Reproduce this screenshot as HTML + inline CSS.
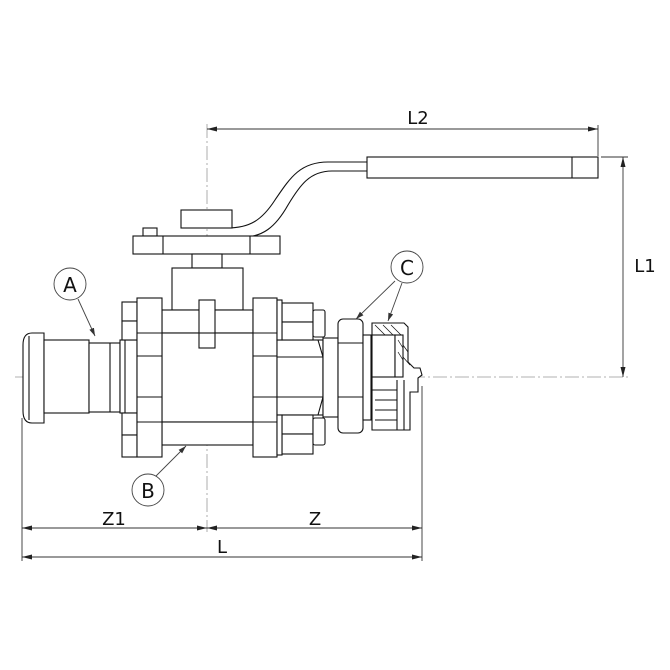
<!DOCTYPE html>
<html><head><style>
html,body{margin:0;padding:0;background:#fff;}
svg{display:block;}
text{font-family:"DejaVu Sans","Liberation Sans",sans-serif;fill:#111;}
</style></head><body>
<svg width="670" height="670" viewBox="0 0 670 670" xmlns="http://www.w3.org/2000/svg">
<defs>
<marker id="ar" markerWidth="10" markerHeight="6" refX="10" refY="3" orient="auto-start-reverse" markerUnits="userSpaceOnUse">
<path d="M0,0.5 L10,3 L0,5.5 z" fill="#222"/></marker>
<marker id="al" markerWidth="8" markerHeight="6" refX="8" refY="3" orient="auto" markerUnits="userSpaceOnUse">
<path d="M0,0.5 L8,3 L0,5.5 z" fill="#333"/></marker>
</defs>
<g stroke="#999" stroke-width="0.8" stroke-dasharray="14,3,2,3" fill="none">
<line x1="207" y1="124" x2="207" y2="532"/>
<line x1="15" y1="377" x2="628" y2="377"/>
</g>
<g stroke="#333" stroke-width="0.9" fill="none">
<line x1="207" y1="129" x2="598" y2="129" marker-start="url(#ar)" marker-end="url(#ar)"/>
<line x1="598" y1="125" x2="598" y2="156"/>
<line x1="601" y1="157" x2="628" y2="157"/>
<line x1="623" y1="157" x2="623" y2="377" marker-start="url(#ar)" marker-end="url(#ar)"/>
<line x1="22" y1="418" x2="22" y2="561"/>
<line x1="422" y1="386" x2="422" y2="561"/>
<line x1="22" y1="528" x2="207" y2="528" marker-start="url(#ar)" marker-end="url(#ar)"/>
<line x1="207" y1="528" x2="422" y2="528" marker-start="url(#ar)" marker-end="url(#ar)"/>
<line x1="22" y1="557" x2="422" y2="557" marker-start="url(#ar)" marker-end="url(#ar)"/>
</g>
<text x="418" y="124" font-size="18" text-anchor="middle">L2</text>
<text x="645" y="272" font-size="18" text-anchor="middle">L1</text>
<text x="114" y="525" font-size="18" text-anchor="middle">Z1</text>
<text x="315" y="525" font-size="18" text-anchor="middle">Z</text>
<text x="222" y="553" font-size="18" text-anchor="middle">L</text>

<g stroke="#111" stroke-width="1.1" fill="#fff">
<path d="M367,162 L328,162 C300,162 290,178 275,200 C262,220 250,228 227,228" fill="none"/>
<path d="M367,171 L332,171 C310,171 300,185 288,205 C275,228 262,237 243,237" fill="none"/>
<rect x="367" y="157" width="231" height="21"/>
<line x1="572" y1="157" x2="572" y2="178"/>
<rect x="181" y="210" width="51" height="18"/>
<rect x="143" y="228" width="14" height="8"/>
<rect x="133" y="236" width="147" height="18"/>
<line x1="163" y1="236" x2="163" y2="254"/>
<line x1="250" y1="236" x2="250" y2="254"/>
<rect x="192" y="254" width="30" height="14"/>
<rect x="172" y="268" width="71" height="42"/>
<rect x="162" y="310" width="91" height="23"/>
<rect x="162" y="333" width="91" height="89"/>
<rect x="162" y="422" width="91" height="23"/>
<rect x="199" y="300" width="16" height="48"/>
<line x1="199" y1="333" x2="215" y2="333"/>
<path d="M44,333 L32,333 C25,333 23,338 23,345 L23,411 C23,418 25,423 32,423 L44,423 Z"/>
<line x1="29" y1="336" x2="29" y2="420"/>
<rect x="44" y="340" width="45" height="73"/>
<rect x="89" y="343" width="31" height="69"/>
<line x1="110" y1="343" x2="110" y2="412"/>
<rect x="120" y="340" width="17" height="73"/>
<line x1="125" y1="340" x2="125" y2="413"/>
<rect x="122" y="302" width="15" height="19"/>
<rect x="122" y="321" width="15" height="19"/>
<rect x="122" y="413" width="15" height="22"/>
<rect x="122" y="435" width="15" height="22"/>
<rect x="137" y="298" width="25" height="159"/>
<line x1="137" y1="333" x2="162" y2="333"/>
<line x1="137" y1="356" x2="162" y2="356"/>
<line x1="137" y1="397" x2="162" y2="397"/>
<line x1="137" y1="422" x2="162" y2="422"/>
<rect x="253" y="298" width="24" height="159"/>
<line x1="253" y1="333" x2="277" y2="333"/>
<line x1="253" y1="356" x2="277" y2="356"/>
<line x1="253" y1="397" x2="277" y2="397"/>
<line x1="253" y1="422" x2="277" y2="422"/>
<rect x="277" y="340" width="46" height="75"/>
<line x1="277" y1="357" x2="323" y2="357"/>
<line x1="277" y1="397" x2="323" y2="397"/>
<path d="M318,340 L323,357 L323,397 L318,415" fill="none"/>
<rect x="282" y="303" width="31" height="19"/>
<rect x="282" y="322" width="31" height="18"/>
<rect x="313" y="310" width="12" height="27" rx="2"/>
<rect x="282" y="415" width="31" height="19"/>
<rect x="282" y="434" width="31" height="20"/>
<rect x="313" y="418" width="12" height="27" rx="2"/>
<rect x="277" y="300" width="5" height="40"/>
<rect x="277" y="415" width="5" height="40"/>
<rect x="323" y="338" width="15" height="79"/>
<rect x="338" y="319" width="25" height="114" rx="5"/>
<line x1="338" y1="343" x2="363" y2="343"/>
<line x1="338" y1="397" x2="363" y2="397"/>
<rect x="363" y="335" width="8" height="85"/>
<path d="M372,323 L404,323 L408,327 L408,362 L414,368 L420,368 L422,375 L418,378 L418,392 L414,392 L410,392 L410,430 L372,430 Z"/>
<rect x="372" y="335" width="23" height="42"/>
<rect x="395" y="335" width="8" height="42"/>
<g stroke-width="0.7">
<line x1="375" y1="325" x2="385" y2="335"/>
<line x1="383" y1="325" x2="393" y2="335"/>
<line x1="391" y1="325" x2="401" y2="335"/>
<line x1="398" y1="340" x2="403" y2="348"/>
<line x1="398" y1="352" x2="403" y2="360"/>
<line x1="403" y1="345" x2="408" y2="352"/>
<line x1="403" y1="357" x2="410" y2="365"/>
</g>
<line x1="372" y1="390" x2="397" y2="390"/>
<line x1="375" y1="400" x2="397" y2="400"/>
<line x1="375" y1="410" x2="397" y2="410"/>
<line x1="375" y1="420" x2="397" y2="420"/>
<line x1="397" y1="380" x2="397" y2="430"/>
<line x1="404" y1="380" x2="404" y2="430"/>
</g>
<g stroke="#444" stroke-width="0.9" fill="#fff">
<circle cx="70" cy="284" r="16"/>
<circle cx="148" cy="490" r="16"/>
<circle cx="407" cy="267" r="16"/>
<line x1="78" y1="299" x2="95" y2="336" marker-end="url(#al)"/>
<line x1="156" y1="476" x2="186" y2="446" marker-end="url(#al)"/>
<line x1="395" y1="281" x2="356" y2="319" marker-end="url(#al)"/>
<line x1="402" y1="283" x2="388" y2="321" marker-end="url(#al)"/>
</g>
<text x="70" y="292" font-size="20" text-anchor="middle">A</text>
<text x="148" y="498" font-size="20" text-anchor="middle">B</text>
<text x="407" y="275" font-size="20" text-anchor="middle">C</text>
</svg>
</body></html>
